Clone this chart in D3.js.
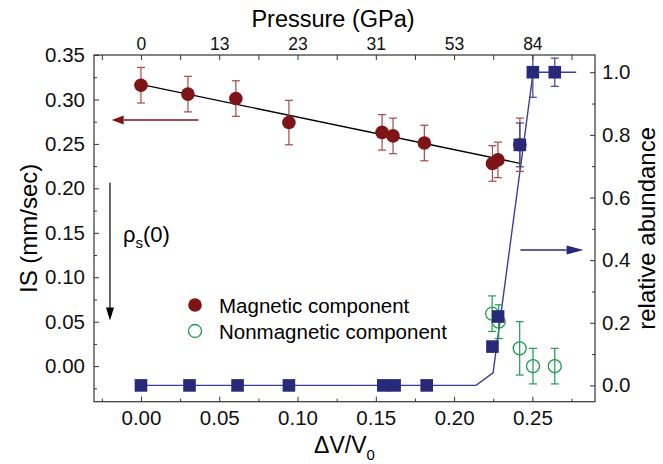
<!DOCTYPE html>
<html>
<head>
<meta charset="utf-8">
<script src="https://cdn.jsdelivr.net/npm/d3@7"></script>
<style>
  body { margin: 0; background: #fff; }
  svg { font-family: "Liberation Sans", Arial, sans-serif; }
  .axis path, .axis line { stroke: #333; stroke-width: 1; }
  .axis text { fill: #111; }
</style>
</head>
<body>
<div id="chart"></div>
<script>
// magnetic component (left axis, IS)
var magDV = [0, 0.030, 0.0606, 0.0945, 0.154, 0.161, 0.181, 0.2245, 0.228, 0.242];
var magIS = [0.316, 0.306, 0.301, 0.274, 0.263, 0.259, 0.251, 0.228, 0.232, 0.249];
var magErr = [0.02, 0.02, 0.02, 0.025, 0.02, 0.02, 0.02, 0.02, 0.02, 0.03];
var magFitDV = [-0.004, 0.242];
var magFitIS = [0.3184, 0.2281];

// nonmagnetic component (left axis, IS)
var nonDV = [0.2243, 0.2285, 0.2419, 0.2504, 0.2643];
var nonIS = [0.059, 0.050, 0.020, 0.000, 0.000];
var nonErr = [0.02, 0.019, 0.03, 0.02, 0.02];

// relative abundance (right axis)
var abDV = [0, 0.031, 0.0617, 0.0945, 0.1548, 0.162, 0.1825, 0.2245, 0.2281, 0.242, 0.2503, 0.2643];
var abVal = [0, 0, 0, 0, 0, 0, 0, 0.124, 0.22, 0.768, 1.0, 1.0];
var abErr = [0, 0, 0, 0, 0, 0, 0, 0, 0, 0.07, 0.08, 0.045];
var abFitDV = [0, 0.214, 0.2249, 0.2505, 0.278];
var abFitVal = [0, 0, 0.04, 1.0, 1.0];

// top axis: pressure labels at the dV/V0 majors
var pressureAt = [0, 0.05, 0.10, 0.15, 0.20, 0.25];
var pressureLabels = ["0", "13", "23", "31", "53", "84"];

var W = 663, H = 464;
var pLeft = 94, pRight = 595, pTop = 55, pBottom = 401.7;

var red = "#7d1517", redErr = "#a8464a", blue = "#262a78", blueLine = "#3a3e98", green = "#1f9a55";

var svg = d3.select("#chart").append("svg")
  .attr("width", W)
  .attr("height", H);

var x = d3.scaleLinear().domain([-0.03, 0.29]).range([pLeft, pRight]);
var yL = d3.scaleLinear().domain([-0.04, 0.35]).range([pBottom, pTop]);
var yR = d3.scaleLinear().domain([-0.052, 1.055]).range([pBottom, pTop]);

var majorX = d3.range(0, 0.2501, 0.05);
var minorX = [-0.025, 0.025, 0.075, 0.125, 0.175, 0.225, 0.275];
var majorL = d3.range(0, 0.3501, 0.05);
var minorL = d3.range(-0.025, 0.35, 0.05);
var majorR = d3.range(0, 1.001, 0.2);
var minorR = d3.range(0.1, 1.0, 0.2);

// frame
svg.append("rect")
  .attr("x", pLeft).attr("y", pTop)
  .attr("width", pRight - pLeft).attr("height", pBottom - pTop)
  .attr("fill", "none").attr("stroke", "#333").attr("stroke-width", 1.2);

function noDomain(g) { g.select(".domain").remove(); }

// bottom
svg.append("g").attr("class", "axis").attr("transform", "translate(0," + pBottom + ")")
  .call(d3.axisBottom(x).tickValues(majorX).tickFormat(d3.format(".2f")).tickSizeInner(-5).tickSizeOuter(0).tickPadding(9))
  .call(noDomain)
  .selectAll("text").attr("font-size", "20.5px");
svg.append("g").attr("class", "axis").attr("transform", "translate(0," + pBottom + ")")
  .call(d3.axisBottom(x).tickValues(minorX).tickFormat("").tickSizeInner(-3).tickSizeOuter(0))
  .call(noDomain);

// top
svg.append("g").attr("class", "axis").attr("transform", "translate(0," + pTop + ")")
  .call(d3.axisTop(x).tickValues(pressureAt).tickFormat(function (d, i) { return pressureLabels[i]; })
    .tickSizeInner(-5).tickSizeOuter(0).tickPadding(5))
  .call(noDomain)
  .selectAll("text").attr("font-size", "17.5px");
svg.append("g").attr("class", "axis").attr("transform", "translate(0," + pTop + ")")
  .call(d3.axisTop(x).tickValues(minorX).tickFormat("").tickSizeInner(-5).tickSizeOuter(0))
  .call(noDomain);

// left
svg.append("g").attr("class", "axis").attr("transform", "translate(" + pLeft + ",0)")
  .call(d3.axisLeft(yL).tickValues(majorL).tickFormat(d3.format(".2f")).tickSizeInner(-5).tickSizeOuter(0).tickPadding(9))
  .call(noDomain)
  .selectAll("text").attr("font-size", "20.5px");
svg.append("g").attr("class", "axis").attr("transform", "translate(" + pLeft + ",0)")
  .call(d3.axisLeft(yL).tickValues(minorL).tickFormat("").tickSizeInner(-3).tickSizeOuter(0))
  .call(noDomain);

// right
svg.append("g").attr("class", "axis").attr("transform", "translate(" + pRight + ",0)")
  .call(d3.axisRight(yR).tickValues(majorR).tickFormat(d3.format(".1f")).tickSizeInner(-5).tickSizeOuter(0).tickPadding(7))
  .call(noDomain)
  .selectAll("text").attr("font-size", "20.5px");
svg.append("g").attr("class", "axis").attr("transform", "translate(" + pRight + ",0)")
  .call(d3.axisRight(yR).tickValues(minorR).tickFormat("").tickSizeInner(-3).tickSizeOuter(0))
  .call(noDomain);

// axis titles
svg.append("text")
  .attr("x", 333).attr("y", 27)
  .attr("text-anchor", "middle").attr("font-size", "23.5px")
  .text("Pressure (GPa)");

var xt = svg.append("text")
  .attr("x", (pLeft + pRight) / 2).attr("y", 453)
  .attr("text-anchor", "middle").attr("font-size", "23px");
xt.append("tspan").text("\u0394V/V");
xt.append("tspan").attr("font-size", "15px").attr("dy", 7).text("0");

svg.append("text")
  .attr("transform", "translate(37," + (pTop + pBottom) / 2 + ") rotate(-90)")
  .attr("text-anchor", "middle").attr("font-size", "24px")
  .text("IS (mm/sec)");

svg.append("text")
  .attr("transform", "translate(655," + (pTop + pBottom) / 2 + ") rotate(-90)")
  .attr("text-anchor", "middle").attr("font-size", "24px")
  .text("relative abundance");

var plot = svg.append("g");

// fit lines
var lineL = d3.line().x(function (d) { return x(d[0]); }).y(function (d) { return yL(d[1]); });
var lineR = d3.line().x(function (d) { return x(d[0]); }).y(function (d) { return yR(d[1]); });

plot.append("path")
  .attr("d", lineR(d3.zip(abFitDV, abFitVal)))
  .attr("fill", "none").attr("stroke", blueLine).attr("stroke-width", 1.4);

plot.append("path")
  .attr("d", lineL(d3.zip(magFitDV, magFitIS)))
  .attr("fill", "none").attr("stroke", "#000").attr("stroke-width", 1.4);

// error bars helper
function errorBars(xs, ys, es, yScale, color) {
  var g = plot.append("g").attr("stroke", color).attr("stroke-width", 1.2).attr("fill", "none");
  xs.forEach(function (dx, i) {
    if (!es[i]) return;
    var cx = x(dx);
    var y0 = Math.max(yScale(ys[i] + es[i]), pTop), y1 = yScale(ys[i] - es[i]);
    g.append("line").attr("x1", cx).attr("x2", cx).attr("y1", y0).attr("y2", y1);
    if (yScale(ys[i] + es[i]) >= pTop)
      g.append("line").attr("x1", cx - 4).attr("x2", cx + 4).attr("y1", y0).attr("y2", y0);
    g.append("line").attr("x1", cx - 4).attr("x2", cx + 4).attr("y1", y1).attr("y2", y1);
  });
}

errorBars(nonDV, nonIS, nonErr, yL, green);
errorBars(magDV, magIS, magErr, yL, redErr);

plot.selectAll(".non").data(d3.zip(nonDV, nonIS)).enter().append("circle")
  .attr("class", "non")
  .attr("cx", function (d) { return x(d[0]); })
  .attr("cy", function (d) { return yL(d[1]); })
  .attr("r", 6.5)
  .attr("fill", "none").attr("stroke", green).attr("stroke-width", 1.3);

plot.selectAll(".mag").data(d3.zip(magDV, magIS)).enter().append("circle")
  .attr("class", "mag")
  .attr("cx", function (d) { return x(d[0]); })
  .attr("cy", function (d) { return yL(d[1]); })
  .attr("r", 6.8)
  .attr("fill", red);

errorBars(abDV, abVal, abErr, yR, blueLine);

plot.selectAll(".ab").data(d3.zip(abDV, abVal)).enter().append("rect")
  .attr("class", "ab")
  .attr("x", function (d) { return x(d[0]) - 6.3; })
  .attr("y", function (d) { return yR(d[1]) - 6.3; })
  .attr("width", 12.6).attr("height", 12.6)
  .attr("fill", blue);

// arrows
function arrowH(x1, x2, y, color, head) {
  var dir = x2 > x1 ? 1 : -1;
  svg.append("line").attr("x1", x1).attr("x2", x2 - dir * head).attr("y1", y).attr("y2", y)
    .attr("stroke", color).attr("stroke-width", 1.4);
  svg.append("path")
    .attr("d", "M" + x2 + "," + y + "L" + (x2 - dir * head) + "," + (y - 4.5) + "L" + (x2 - dir * head) + "," + (y + 4.5) + "Z")
    .attr("fill", color);
}
arrowH(x(0.0366), x(-0.0187), yL(0.2769), red, 12);
arrowH(x(0.2424), x(0.2827), yR(0.4326), blue, 17);

var ax = x(-0.0198), ay1 = yL(0.2063), ay2 = yL(0.0514);
svg.append("line").attr("x1", ax).attr("x2", ax).attr("y1", ay1).attr("y2", ay2 - 12)
  .attr("stroke", "#000").attr("stroke-width", 1.2);
svg.append("path")
  .attr("d", "M" + ax + "," + ay2 + "L" + (ax - 4) + "," + (ay2 - 13) + "L" + (ax + 4) + "," + (ay2 - 13) + "Z")
  .attr("fill", "#000");

var rho = svg.append("text").attr("x", x(-0.0115)).attr("y", yL(0.1396)).attr("font-size", "22px");
rho.append("tspan").text("\u03C1");
rho.append("tspan").attr("font-size", "15px").attr("dy", 6).text("s");
rho.append("tspan").attr("dy", -6).text("(0)");

// legend
svg.append("circle").attr("cx", 195).attr("cy", 305).attr("r", 6.8).attr("fill", red);
svg.append("circle").attr("cx", 195).attr("cy", 331).attr("r", 6.5).attr("fill", "none").attr("stroke", green).attr("stroke-width", 1.3);
svg.append("text").attr("x", 219).attr("y", 305).attr("dominant-baseline", "central").attr("font-size", "20.5px").text("Magnetic component");
svg.append("text").attr("x", 219).attr("y", 331).attr("dominant-baseline", "central").attr("font-size", "20.5px").text("Nonmagnetic component");
</script>
</body>
</html>
